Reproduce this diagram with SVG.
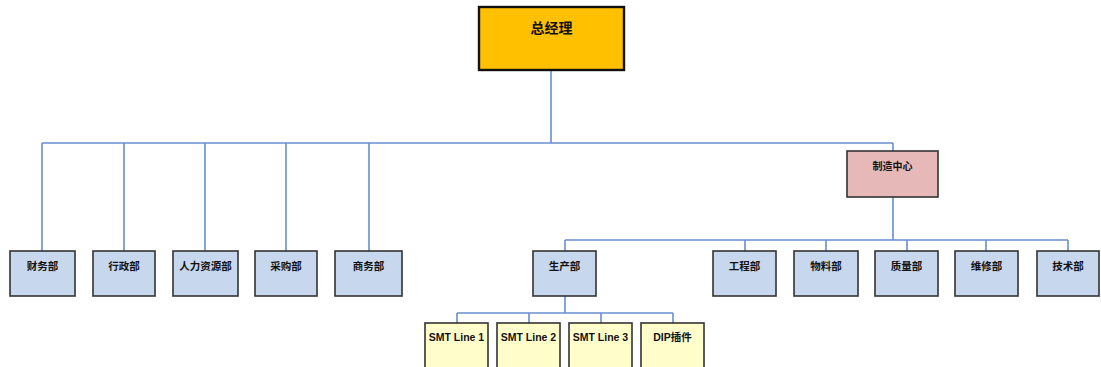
<svg xmlns="http://www.w3.org/2000/svg" width="1101" height="367" viewBox="0 0 1101 367">
<style>
.ln{fill:none;stroke:#6A8DCF;stroke-width:1.6}
.box{stroke:#333;stroke-width:1.6}
.dept{fill:#C6D7EE}
.smt{fill:#FFFECB}
.t{font-family:"Liberation Sans","Noto Sans CJK SC",sans-serif;font-weight:bold;fill:#111;text-anchor:middle;font-size:10.5px}
</style>
<rect width="1101" height="367" fill="#fff"/>
<g id="connectors">
<path class="ln" d="M551 70V143M42 143H893M42 143V251M124 143V251M205 143V251M286 143V251M369 143V251M893 143V151"/>
<path class="ln" d="M893 197V240M565 240H1068M565 240V251M745 240V251M826 240V251M907 240V251M986 240V251M1068 240V251"/>
<path class="ln" d="M565 296V313M457 313H673M457 313V323M529 313V323M601 313V323M673 313V323"/>
</g>
<g id="n-gm"><rect x="479" y="7" width="145" height="63" fill="#FFC000" stroke="#111" stroke-width="2.4"/><text class="t" x="551.5" y="33" style="font-size:14px">总经理</text></g>
<g id="n-mfg"><rect class="box" x="847" y="151" width="91" height="46" fill="#E6B9B8"/><text class="t" x="892.5" y="170" style="font-size:10px">制造中心</text></g>
<g id="n-fin"><rect class="box dept" x="10" y="251" width="65" height="45"/><text class="t" x="42.5" y="270">财务部</text></g>
<g id="n-adm"><rect class="box dept" x="93" y="251" width="62" height="45"/><text class="t" x="124" y="270">行政部</text></g>
<g id="n-hr"><rect class="box dept" x="173" y="251" width="65" height="45"/><text class="t" x="205.5" y="270">人力资源部</text></g>
<g id="n-pur"><rect class="box dept" x="255" y="251" width="62" height="45"/><text class="t" x="286" y="270">采购部</text></g>
<g id="n-biz"><rect class="box dept" x="335" y="251" width="67" height="45"/><text class="t" x="368.5" y="270">商务部</text></g>
<g id="n-prod"><rect class="box dept" x="533" y="251" width="63" height="45"/><text class="t" x="564.5" y="270">生产部</text></g>
<g id="n-eng"><rect class="box dept" x="713" y="251" width="63" height="45"/><text class="t" x="744.5" y="270">工程部</text></g>
<g id="n-mat"><rect class="box dept" x="794" y="251" width="64" height="45"/><text class="t" x="826" y="270">物料部</text></g>
<g id="n-qa"><rect class="box dept" x="875" y="251" width="63" height="45"/><text class="t" x="906.5" y="270">质量部</text></g>
<g id="n-mnt"><rect class="box dept" x="955" y="251" width="63" height="45"/><text class="t" x="986.5" y="270">维修部</text></g>
<g id="n-tech"><rect class="box dept" x="1037" y="251" width="62" height="45"/><text class="t" x="1068" y="270">技术部</text></g>
<g id="n-smt1"><rect class="box smt" x="425" y="323" width="63" height="50"/><text class="t" x="456.5" y="341">SMT Line 1</text></g>
<g id="n-smt2"><rect class="box smt" x="497" y="323" width="63" height="50"/><text class="t" x="528.5" y="341">SMT Line 2</text></g>
<g id="n-smt3"><rect class="box smt" x="569" y="323" width="63" height="50"/><text class="t" x="600.5" y="341">SMT Line 3</text></g>
<g id="n-dip"><rect class="box smt" x="641" y="323" width="63" height="50"/><text class="t" x="672.5" y="341">DIP插件</text></g>
</svg>
